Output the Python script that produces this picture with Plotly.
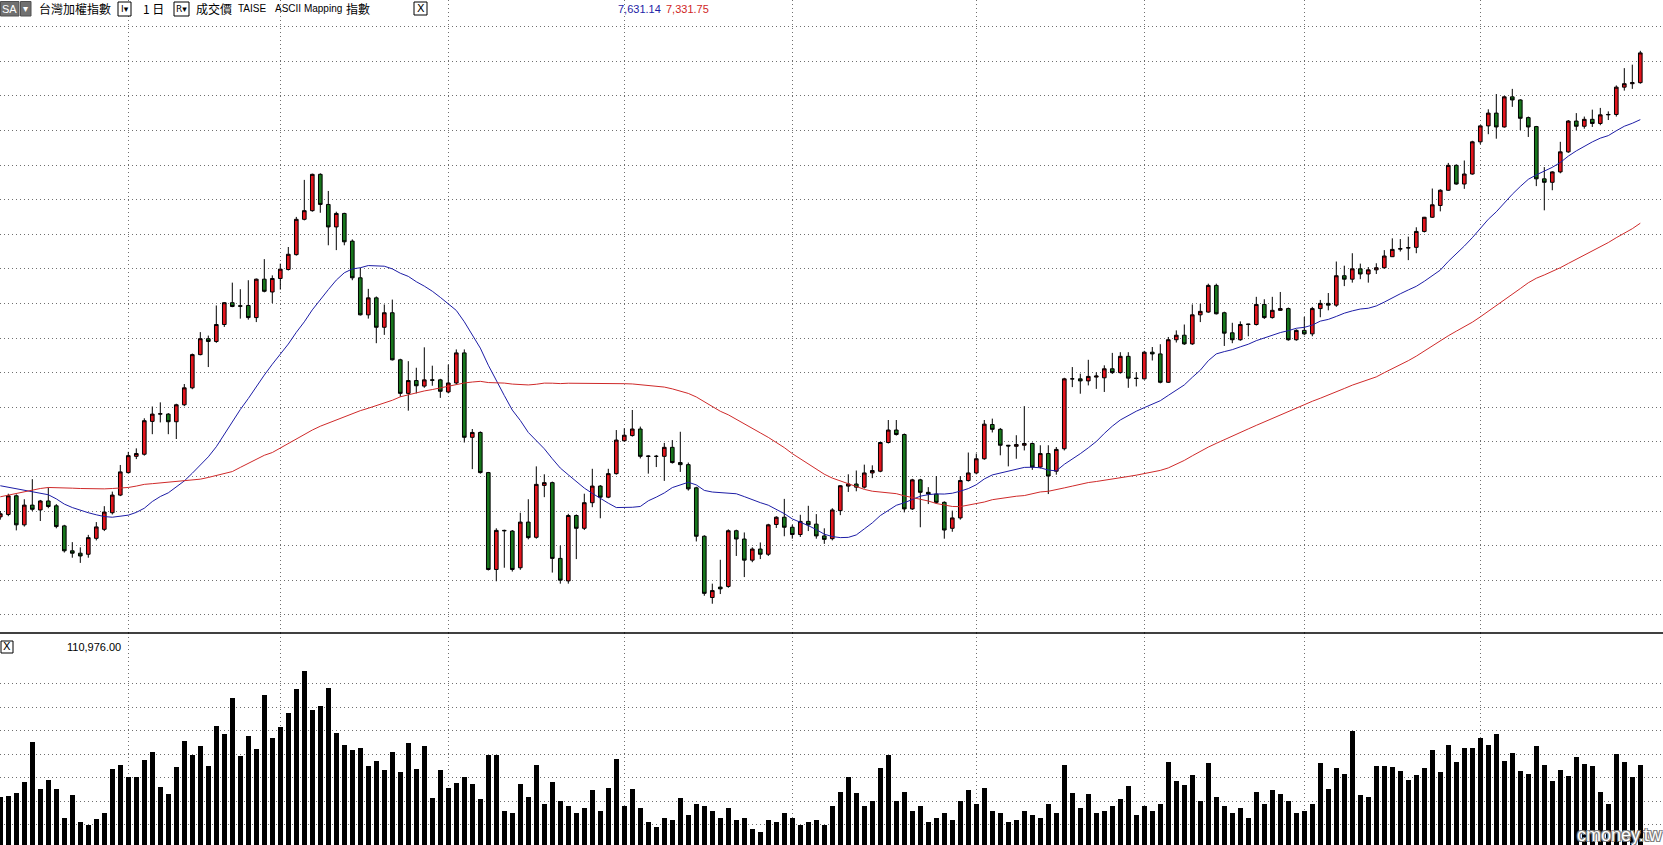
import pandas as pd
import plotly.graph_objects as go

W, H = 1663, 845

# ---------------- data ----------------
holidays = ["2006-04-05", "2006-05-01", "2006-05-31", "2006-10-06", "2006-10-10"]
dates = [d for d in pd.bdate_range("2006-03-10", "2006-12-29") if d.strftime("%Y-%m-%d") not in holidays]

opens = [6483, 6490, 6544, 6460, 6517, 6503, 6529, 6515, 6457, 6385,
         6378, 6375, 6421, 6447, 6495, 6546, 6611, 6658, 6664, 6759,
         6780, 6780, 6758, 6807, 6856, 6952, 6998, 6990, 7039, 7102,
         7093, 7094, 7059, 7170, 7133, 7172, 7198, 7241, 7343, 7368,
         7473, 7386, 7321, 7360, 7280, 7174, 7067, 7116, 7031, 7073,
         6937, 6840, 6877, 6861, 6879, 6879, 6844, 6870, 6957, 6713,
         6727, 6611, 6331, 6444, 6442, 6336, 6468, 6424, 6574, 6582,
         6363, 6298, 6487, 6450, 6524, 6572, 6540, 6608, 6703, 6718,
         6737, 6659, 6658, 6658, 6684, 6640, 6634, 6567, 6427, 6250,
         6280, 6282, 6443, 6419, 6358, 6390, 6375, 6461, 6482, 6453,
         6432, 6470, 6462, 6428, 6420, 6501, 6572, 6578, 6569, 6610,
         6615, 6698, 6734, 6721, 6506, 6590, 6554, 6549, 6525, 6450,
         6480, 6588, 6610, 6651, 6750, 6736, 6690, 6687, 6690, 6695,
         6627, 6666, 6615, 6680, 6882, 6882, 6876, 6887, 6885, 6911,
         6900, 6947, 6884, 6882, 6959, 6954, 6872, 6995, 7008, 6983,
         7067, 7075, 7152, 7073, 7015, 6995, 7039, 7039, 7097, 7059,
         7080, 7085, 6995, 7022, 7012, 7085, 7100, 7095, 7180, 7170,
         7200, 7185, 7197, 7203, 7235, 7257, 7260, 7262, 7308, 7349,
         7383, 7427, 7499, 7445, 7474, 7567, 7613, 7650, 7610, 7697,
         7688, 7637, 7611, 7460, 7450, 7480, 7538, 7627, 7612, 7632,
         7620, 7645, 7646, 7725, 7735, 7738]

highs = [6500, 6550, 6548, 6534, 6592, 6532, 6568, 6520, 6460, 6410,
         6395, 6431, 6468, 6514, 6556, 6633, 6671, 6681, 6768, 6802,
         6814, 6783, 6810, 6867, 6955, 7017, 7007, 7094, 7104, 7160,
         7141, 7167, 7172, 7228, 7181, 7215, 7263, 7350, 7457, 7475,
         7476, 7425, 7365, 7362, 7285, 7203, 7142, 7120, 7097, 7111,
         6940, 6933, 6914, 6973, 6920, 6882, 6923, 6967, 6967, 6737,
         6730, 6613, 6450, 6446, 6445, 6495, 6534, 6629, 6606, 6585,
         6400, 6492, 6490, 6550, 6622, 6575, 6622, 6734, 6739, 6792,
         6744, 6661, 6662, 6697, 6705, 6729, 6640, 6570, 6430, 6290,
         6359, 6447, 6446, 6438, 6395, 6409, 6463, 6485, 6535, 6460,
         6489, 6515, 6491, 6450, 6508, 6575, 6606, 6617, 6634, 6632,
         6700, 6763, 6763, 6724, 6593, 6593, 6569, 6601, 6528, 6501,
         6601, 6669, 6666, 6763, 6767, 6740, 6691, 6719, 6803, 6698,
         6690, 6690, 6685, 6885, 6916, 6897, 6937, 6901, 6921, 6957,
         6959, 6959, 6901, 6963, 6974, 6982, 7003, 7022, 7039, 7097,
         7099, 7157, 7157, 7076, 7044, 7048, 7041, 7119, 7112, 7119,
         7133, 7088, 7025, 7061, 7090, 7110, 7130, 7221, 7209, 7245,
         7215, 7205, 7216, 7254, 7288, 7286, 7293, 7320, 7350, 7432,
         7430, 7506, 7502, 7513, 7570, 7615, 7661, 7705, 7700, 7720,
         7690, 7640, 7613, 7494, 7482, 7567, 7630, 7650, 7640, 7660,
         7665, 7655, 7730, 7780, 7790, 7830]

lows = [6475, 6485, 6444, 6455, 6500, 6471, 6508, 6450, 6380, 6365,
        6350, 6365, 6415, 6442, 6490, 6543, 6608, 6650, 6660, 6722,
        6756, 6722, 6708, 6803, 6852, 6950, 6916, 6986, 7032, 7089,
        7056, 7053, 7046, 7132, 7101, 7140, 7195, 7238, 7340, 7365,
        7362, 7268, 7254, 7268, 7167, 7065, 7056, 6985, 7009, 6935,
        6830, 6790, 6840, 6856, 6862, 6827, 6840, 6866, 6698, 6621,
        6608, 6328, 6297, 6336, 6325, 6330, 6418, 6420, 6540, 6322,
        6290, 6290, 6361, 6445, 6511, 6479, 6537, 6605, 6700, 6715,
        6652, 6608, 6627, 6587, 6637, 6613, 6559, 6412, 6255, 6232,
        6260, 6278, 6370, 6309, 6352, 6361, 6370, 6451, 6427, 6420,
        6425, 6442, 6420, 6405, 6415, 6488, 6555, 6557, 6565, 6595,
        6612, 6695, 6718, 6496, 6503, 6453, 6520, 6521, 6420, 6440,
        6475, 6585, 6606, 6648, 6727, 6661, 6629, 6651, 6675, 6619,
        6623, 6549, 6605, 6675, 6858, 6839, 6863, 6853, 6844, 6896,
        6897, 6856, 6860, 6880, 6935, 6869, 6870, 6987, 6980, 6980,
        7046, 7073, 7068, 6977, 6985, 6992, 7005, 7036, 7055, 7056,
        7078, 6992, 6992, 7008, 7005, 7060, 7080, 7090, 7150, 7160,
        7170, 7160, 7185, 7200, 7234, 7250, 7225, 7245, 7305, 7347,
        7366, 7425, 7443, 7431, 7472, 7560, 7589, 7576, 7608, 7668,
        7601, 7581, 7439, 7369, 7427, 7476, 7535, 7600, 7605, 7610,
        7615, 7630, 7640, 7715, 7720, 7735]

closes = [6492, 6544, 6460, 6517, 6505, 6529, 6513, 6455, 6385, 6378,
          6370, 6423, 6454, 6497, 6546, 6613, 6660, 6666, 6761, 6780,
          6781, 6758, 6807, 6856, 6952, 6998, 6990, 7039, 7102, 7091,
          7092, 7059, 7170, 7135, 7172, 7199, 7242, 7343, 7368, 7473,
          7386, 7321, 7360, 7278, 7174, 7067, 7116, 7031, 7073, 6937,
          6840, 6877, 6862, 6879, 6878, 6846, 6870, 6957, 6713, 6727,
          6611, 6331, 6444, 6443, 6331, 6468, 6423, 6577, 6582, 6363,
          6300, 6487, 6450, 6524, 6572, 6540, 6608, 6705, 6719, 6737,
          6658, 6658, 6658, 6684, 6640, 6634, 6564, 6427, 6262, 6270,
          6275, 6443, 6419, 6358, 6390, 6375, 6460, 6482, 6453, 6432,
          6470, 6460, 6428, 6418, 6503, 6573, 6578, 6569, 6610, 6617,
          6698, 6734, 6721, 6506, 6590, 6554, 6549, 6525, 6445, 6480,
          6588, 6610, 6651, 6751, 6736, 6690, 6688, 6692, 6695, 6627,
          6666, 6601, 6678, 6882, 6882, 6876, 6889, 6890, 6911, 6900,
          6947, 6884, 6883, 6959, 6954, 6872, 6995, 7008, 6983, 7067,
          7077, 7152, 7070, 7014, 6995, 7039, 7040, 7097, 7059, 7080,
          7085, 6995, 7022, 7012, 7085, 7100, 7095, 7180, 7170, 7200,
          7185, 7197, 7203, 7237, 7256, 7258, 7261, 7308, 7349, 7385,
          7427, 7499, 7445, 7474, 7567, 7613, 7650, 7610, 7697, 7688,
          7635, 7610, 7460, 7450, 7480, 7538, 7627, 7612, 7632, 7620,
          7645, 7646, 7725, 7735, 7738, 7824]

volumes = [83700, 84250, 87060, 96350, 130100, 90700, 98000, 90700, 66000, 85650,
           62000, 60000, 65000, 70000, 107600, 110970, 100560, 100560, 115190, 121940,
           92400, 86500, 109280, 131220, 119410, 127000, 110130, 143880, 137130, 168350,
           118570, 135440, 124470, 170890, 133760, 143040, 154850, 175950, 191140, 157380,
           161600, 176800, 137970, 127850, 123630, 125320, 110130, 114350, 106750, 121940,
           105060, 129540, 107600, 127000, 83120, 106750, 91560, 95780, 100840, 94940,
           82280, 119410, 119410, 72000, 70000, 94940, 83400, 110970, 78000, 96350,
           80000, 76000, 70000, 74000, 89900, 72000, 91560, 116030, 76000, 90700,
           74000, 62000, 58000, 66000, 64000, 82840, 68000, 78000, 76000, 72000,
           66000, 74000, 64000, 66000, 56000, 54000, 64000, 62000, 70000, 66000,
           60000, 62000, 64000, 60000, 76000, 87900, 100840, 87060, 76000, 80000,
           108440, 119410, 80000, 87900, 72000, 76000, 62000, 66000, 70000, 64000,
           80000, 89900, 78000, 91560, 72000, 70000, 62000, 64000, 72000, 68000,
           66000, 78000, 70000, 110970, 87340, 74000, 86500, 70000, 72000, 76000,
           82280, 93250, 68000, 76000, 72000, 78000, 113500, 97470, 94100, 102530,
           80000, 112660, 83960, 76000, 70000, 74000, 66000, 88180, 78000, 89900,
           86500, 80000, 70000, 72000, 78000, 112660, 90700, 108440, 103370, 139660,
           85650, 83960, 110130, 110130, 109280, 105900, 98310, 102530, 108720, 123630,
           104500, 127850, 113780, 125320, 125320, 133760, 127850, 137130, 114350, 121100,
           105900, 103380, 127000, 110970, 96900, 106750, 101130, 118000, 111800, 110130,
           87620, 77780, 120000, 113780, 100280, 110976]

# moving-average values before the window is full
ma20_head = [6573, 6569, 6565, 6561, 6557, 6553, 6547, 6535, 6520, 6510,
             6502, 6495, 6489, 6484, 6482, 6484, 6488, 6496, 6508]
ma60_head = [6541, 6546, 6551, 6556, 6561, 6565, 6568, 6568, 6567, 6566,
             6565, 6564, 6563, 6564, 6565, 6566, 6568, 6572, 6577, 6579,
             6581, 6583, 6585, 6587, 6590, 6592, 6597, 6603, 6608, 6614,
             6626, 6638, 6651, 6661, 6669, 6682, 6695, 6710, 6722, 6734,
             6745, 6754, 6763, 6773, 6783, 6790, 6797, 6804, 6812, 6820,
             6830, 6836, 6842, 6847, 6851, 6856, 6861, 6866, 6870]

header_ma_values = [7631.14, 7331.75]

n = len(dates)
assert all(len(a) == n for a in (opens, highs, lows, closes, volumes)), [len(a) for a in (dates, opens, highs, lows, closes, volumes)]

# ---------------- derived ----------------
xs = list(range(n))
cs = pd.Series(closes, dtype=float)
ma20 = cs.rolling(20).mean().tolist()
ma60 = cs.rolling(60).mean().tolist()
ma20[:len(ma20_head)] = ma20_head
ma60[:len(ma60_head)] = ma60_head
month_starts = [i for i in range(1, n) if dates[i].month != dates[i - 1].month]
labels = [d.strftime("%Y/%m/%d") for d in dates]

# ---------------- figure ----------------
SPLIT = 633.0  # pixel row of the pane separator
price_dom = [1 - SPLIT / H, 1]
vol_dom = [0, 1 - SPLIT / H]

# price axis: 100 points per 34.6 px, 7500 at y=165 px
pp = 34.6 / 100.0
p_top = 7500 + 165 / pp
p_bot = 7500 - (SPLIT - 165) / pp
# volume axis: 20000 per 23.45 px, 120000 at y=754.3 px
vp = 23.45 / 20000.0
v_top = 120000 + (754.3 - SPLIT) / vp
v_bot = 120000 - (H - 754.3) / vp
x_lo = -0.3 / 8.0
x_hi = (W - 0.3) / 8.0

GRID = "#6f6f6f"
DASH = "1px,3px"

fig = go.Figure()
fig.add_trace(go.Candlestick(
    x=xs, open=opens, high=highs, low=lows, close=closes, hovertext=labels,
    increasing=dict(line=dict(color="#000000", width=1), fillcolor="#e3141c"),
    decreasing=dict(line=dict(color="#000000", width=1), fillcolor="#17761c"),
    whiskerwidth=0, showlegend=False, xaxis="x", yaxis="y", name="台灣加權指數"))
fig.add_trace(go.Scatter(x=xs, y=ma20, mode="lines", line=dict(color="#1d1da6", width=1),
                         showlegend=False, hoverinfo="skip", xaxis="x", yaxis="y"))
fig.add_trace(go.Scatter(x=xs, y=ma60, mode="lines", line=dict(color="#cf2a2a", width=1),
                         showlegend=False, hoverinfo="skip", xaxis="x", yaxis="y"))
fig.add_trace(go.Bar(x=xs, y=volumes, width=0.6, marker=dict(color="#000000", line=dict(width=0)),
                     showlegend=False, hovertext=labels, xaxis="x2", yaxis="y2"))

axis_common = dict(showticklabels=False, ticks="", zeroline=False, showline=False,
                   gridcolor=GRID, griddash=DASH, gridwidth=1)
fig.update_layout(
    width=W, height=H, margin=dict(l=0, r=0, t=0, b=0),
    paper_bgcolor="white", plot_bgcolor="white", showlegend=False,
    boxgap=0.35, bargap=0,
    xaxis=dict(domain=[0, 1], range=[x_lo, x_hi], anchor="y", tickmode="array",
               tickvals=month_starts, showgrid=True, rangeslider=dict(visible=False), **axis_common),
    yaxis=dict(domain=price_dom, range=[p_bot, p_top], anchor="x", tickmode="array",
               tickvals=list(range(6200, 8000, 100)), showgrid=True, **axis_common),
    xaxis2=dict(domain=[0, 1], range=[x_lo, x_hi], anchor="y2", matches="x", tickmode="array",
                tickvals=month_starts, showgrid=True, **axis_common),
    yaxis2=dict(domain=vol_dom, range=[v_bot, v_top], anchor="x2", tickmode="array",
                tickvals=list(range(60000, 200000, 20000)), showgrid=True, **axis_common),
)


def px(x):
    return x / W


def py(y):
    return 1 - y / H


shapes = []
annos = []
# pane separator
shapes.append(dict(type="line", xref="paper", yref="paper", x0=0, x1=1, y0=py(SPLIT), y1=py(SPLIT),
                   line=dict(color="#000000", width=1.3)))


def box(x0, x1, y0, y1, fill="white", line="#000000"):
    shapes.append(dict(type="rect", xref="paper", yref="paper", x0=px(x0), x1=px(x1), y0=py(y1), y1=py(y0),
                       fillcolor=fill, line=dict(color=line, width=1), layer="above"))


def text(x, y, s, size=12, color="#000000", family="Noto Sans CJK TC", anchor="left"):
    annos.append(dict(x=px(x), y=py(y), xref="paper", yref="paper", text=s, showarrow=False,
                      xanchor=anchor, yanchor="middle", font=dict(size=size, color=color, family=family)))


# header widgets
box(0.5, 19, 1.5, 16, fill="#707070", line="#505050")
text(9.8, 9, "SA", 11, "#ffffff", "Liberation Sans", "center")
box(20.5, 31, 1.5, 16, fill="#707070", line="#505050")
text(25.8, 9, "▾", 10, "#ffffff", "DejaVu Sans", "center")
text(37, 9, "台灣加權指數", 12)
box(118, 131, 2, 16)
text(124.5, 9, "I▾", 9, "#000000", "DejaVu Sans", "center")
text(141, 9, "1 日", 12)
box(174, 189, 2, 16)
text(181.5, 9, "R▾", 9, "#000000", "DejaVu Sans", "center")
text(194, 9, "成交價", 12)
text(236, 9, "TAISE", 10, "#000000", "Liberation Sans")
text(273, 9, "ASCII Mapping", 10, "#000000", "Liberation Sans")
text(344, 9, "指數", 12)
box(414, 427, 2, 15)
text(420.5, 8.7, "X", 11, "#000000", "DejaVu Sans", "center")
text(616, 9, f"{header_ma_values[0]:,.2f}", 11, "#1d1da6", "Liberation Sans")
text(664, 9, f"{header_ma_values[1]:,.2f}", 11, "#d01f1f", "Liberation Sans")

# volume header
box(1, 13, 641, 653)
text(7, 646.7, "X", 11, "#000000", "DejaVu Sans", "center")
text(65, 647, f"{volumes[-1]:,.2f}", 11, "#000000", "Liberation Sans")

# watermark
annos.append(dict(x=px(1620), y=py(835), xref="paper", yref="paper", text="cmoney.tw", showarrow=False,
                  xanchor="center", yanchor="middle",
                  font=dict(size=18, color="#ffffff", family="Liberation Sans",
                            shadow="1px 1px 0 #7a7a7a, -1px -1px 0 #7a7a7a, 1px -1px 0 #7a7a7a, -1px 1px 0 #7a7a7a")))

fig.update_layout(shapes=shapes, annotations=annos)

fig.write_html("out.html", config={"displayModeBar": False},
               post_script="document.body.style.margin='0';document.body.style.overflow='hidden';")
